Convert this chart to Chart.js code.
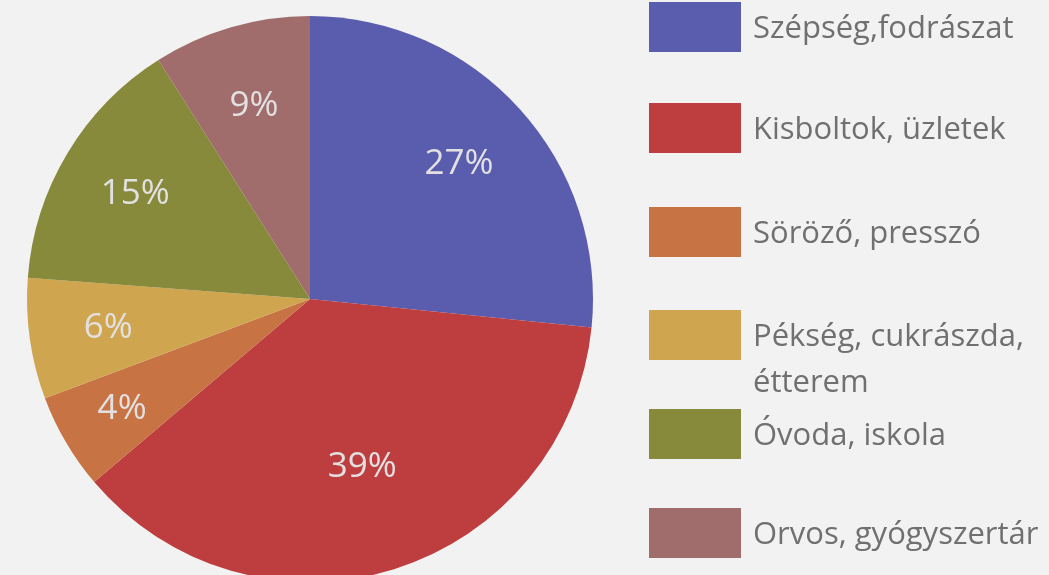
<!DOCTYPE html>
<html>
<head>
<meta charset="utf-8">
<script src="https://cdn.jsdelivr.net/npm/chart.js@4.4.1/dist/chart.umd.min.js"></script>
<style>
  html, body { margin:0; padding:0; background:#f2f2f2; overflow:hidden; }
  #wrap { width:1049px; height:575px; overflow:hidden; }
</style>
</head>
<body>
<div id="wrap"><canvas id="pieChart" width="1049" height="600"></canvas></div>
<script>

const categories = [
    "Szépség,fodrászat",
    "Kisboltok, üzletek",
    "Söröző, presszó",
    "Pékség, cukrászda, étterem",
    "Óvoda, iskola",
    "Orvos, gyógyszertár"
];

const shares = [26.6, 37.2, 5.5, 6.9, 14.8, 9.0];

// percentages printed on the slices
const percentLabels = ["27%", "39%", "4%", "6%", "15%", "9%"];

const colors = ["#5a5cae", "#be3d3f", "#c77344", "#d0a550", "#878a3b", "#a06c6c"];

// legend lines (wrapped like the original)
const legendLines = [
    ["Szépség,fodrászat"],
    ["Kisboltok, üzletek"],
    ["Söröző, presszó"],
    ["Pékség, cukrászda,", "étterem"],
    ["Óvoda, iskola"],
    ["Orvos, gyógyszertár"]
];

const labelRadius = [0.71, 0.62, 0.77, 0.72, 0.72, 0.71];
const legendTops = [2, 103, 207, 310, 409, 508];

const sliceLabels = {
    id:"sliceLabels",
    afterDatasetsDraw(chart){
        const ctx = chart.ctx;
        const meta = chart.getDatasetMeta(0);
        ctx.save();
        ctx.font = "500 35px 'Open Sans'";
        ctx.fillStyle = "#e2e0e0";
        ctx.textAlign = "center";
        ctx.textBaseline = "middle";
        meta.data.forEach((arc, i)=>{
            const mid = (arc.startAngle + arc.endAngle) / 2;
            const r = arc.outerRadius * labelRadius[i];
            ctx.fillText(
                percentLabels[i],
                arc.x + Math.cos(mid) * r,
                arc.y + Math.sin(mid) * r
            );
        });
        ctx.restore();
    }
};

const sideLegend = {
    id:"sideLegend",
    afterDraw(chart){
        const ctx = chart.ctx;
        ctx.save();
        ctx.font = "500 31px 'Open Sans'";
        ctx.textBaseline = "middle";
        ctx.textAlign = "left";
        legendLines.forEach((lines, i)=>{
            const top = legendTops[i];
            ctx.fillStyle = colors[i];
            ctx.fillRect(649, top, 92, 50);
            ctx.fillStyle = "#707070";
            lines.forEach((line, j)=>{
                ctx.fillText(line, 753, top + 27 + j * 46);
            });
        });
        ctx.restore();
    }
};

new Chart(
    document.getElementById("pieChart"),
    {
        type:"pie",
        data:{
            labels:categories,
            datasets:[{
                data:shares,
                backgroundColor:colors,
                borderWidth:0
            }]
        },
        options:{
            responsive:false,
            animation:false,
            layout:{
                padding:{ left:27, top:16, right:456, bottom:18 }
            },
            plugins:{
                legend:{ display:false },
                tooltip:{ enabled:false }
            }
        },
        plugins:[sliceLabels, sideLegend]
    }
);

</script>
</body>
</html>
